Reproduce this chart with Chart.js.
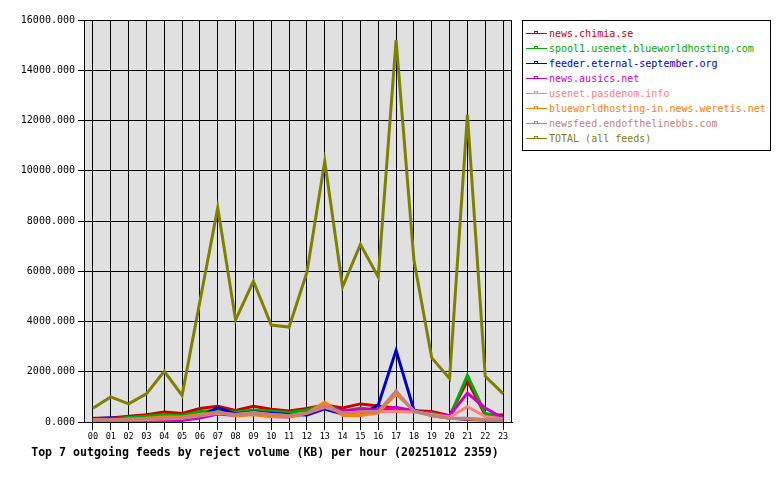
<!DOCTYPE html>
<html>
<head>
<meta charset="utf-8">
<script src="https://cdn.jsdelivr.net/npm/chart.js@4.4.1/dist/chart.umd.min.js"></script>
<style>
  body { margin: 0; background: #fff; width: 780px; height: 480px; overflow: hidden; position: relative; font-family: "DejaVu Sans Mono", monospace; }
  #wrap { position: absolute; left: 0; top: 0; width: 530px; height: 480px; }
  #title { position: absolute; left: 0; top: 444px; width: 530px; text-align: center; font-size: 11.6px; font-weight: bold; line-height: 16px; color: #000; white-space: nowrap; }
  #legend { position: absolute; left: 522px; top: 20px; width: 247px; height: 129px; border: 1px solid #000; background: #fff; }
  .item { position: absolute; left: 3px; height: 15px; font-size: 10px; line-height: 15px; white-space: nowrap; }
  .mk { position: absolute; left: 0; top: 7px; width: 21px; height: 1px; }
  .mk i { position: absolute; left: 8px; top: -2px; width: 2px; height: 1px; border: 1px solid; border-bottom: none; background: #fff; }
  .lbl { position: absolute; left: 23px; top: 0; }
</style>
</head>
<body>
<div id="wrap"><canvas id="chart" width="530" height="480"></canvas></div>
<div id="title"></div>
<div id="legend"></div>
<script>
// ———————————————— Data ————————————————
const hours = ['00','01','02','03','04','05','06','07','08','09','10','11',
               '12','13','14','15','16','17','18','19','20','21','22','23'];

const feedNames = [
  'news.chimia.se',
  'spool1.usenet.blueworldhosting.com',
  'feeder.eternal-september.org',
  'news.ausics.net',
  'usenet.pasdenom.info',
  'blueworldhosting-in.news.weretis.net',
  'newsfeed.endofthelinebbs.com',
  'TOTAL (all feeds)'
];
const feedColors = ['#cc0000', '#00aa00', '#0000cc', '#cc00cc', '#ff8080', '#ff8000', '#c08080', '#808000'];

const chimia    = [150, 160, 230, 290, 400, 340, 540, 630, 460, 630, 510, 440, 540, 680, 560, 720, 640, 550, 450, 420, 250, 1650, 280, 280];
const spool1    = [100, 120, 180, 230, 300, 260, 420, 470, 400, 480, 430, 380, 480, 690, 420, 560, 480, 480, 420, 360, 200, 1850, 340, 180];
const feeder    = [130, 170, 100, 100,  80,  80, 220, 570, 320, 400, 350, 300, 280, 520, 320, 260, 680, 2850, 480, 260, 160, 100, 80, 80];
const ausics    = [ 70,  70,  70,  70,  70,  70, 160, 320, 260, 320, 220, 200, 360, 560, 460, 500, 480, 590, 440, 320, 250, 1150, 560, 150];
const pasdenom  = [ 80,  80,  90, 100, 120, 150, 250, 350, 300, 380, 300, 250, 350, 600, 350, 400, 420, 420, 400, 300, 200, 610, 220, 120];
const weretis   = [100, 100, 120, 150, 200, 200, 300, 400, 250, 290, 220, 210, 350, 790, 260, 260, 360, 1120, 450, 250, 150, 120, 80, 80];
const endofline = [110, 110, 110, 130, 150, 160, 260, 380, 300, 350, 300, 260, 360, 660, 360, 400, 410, 1240, 420, 260, 160, 150, 100, 100];
const total     = [550, 1000, 720, 1120, 2020, 1060, 4800, 8530, 4060, 5600, 3860, 3780, 5950, 10380, 5380, 7070, 5770, 15200, 6450, 2550, 1730, 12230, 1820, 1130];

const series = [chimia, spool1, feeder, ausics, pasdenom, weretis, endofline, total];
const titleText = 'Top 7 outgoing feeds by reject volume (KB) per hour (20251012 2359)';
const FONT = '"DejaVu Sans Mono", monospace';

// ———————————————— Title + Legend (HTML) ————————————————
document.getElementById('title').textContent = titleText;

const legendEl = document.getElementById('legend');
feedNames.forEach((name, i) => {
  const div = document.createElement('div');
  div.className = 'item';
  div.style.top = (5 + 15 * i) + 'px';
  div.style.color = feedColors[i];
  div.innerHTML = `<span class="mk" style="background:${feedColors[i]}"><i style="border-color:${feedColors[i]}"></i></span><span class="lbl">${name}</span>`;
  legendEl.appendChild(div);
});

// Grey plot background + frame
const plotFrame = {
  id: 'plotFrame',
  beforeDraw(chart) {
    const { ctx, chartArea: a } = chart;
    ctx.save();
    ctx.fillStyle = '#e0e0e0';
    ctx.fillRect(a.left, a.top, a.right - a.left, a.bottom - a.top);
    ctx.restore();
  },
  beforeDatasetsDraw(chart) {
    const { ctx, chartArea: a } = chart;
    ctx.save();
    ctx.strokeStyle = '#000';
    ctx.lineWidth = 1;
    ctx.strokeRect(Math.round(a.left) + 0.5, Math.round(a.top) + 0.5,
                   Math.round(a.right - a.left) - 1, Math.round(a.bottom - a.top));
    ctx.restore();
  }
};

// later feeds drawn on top, TOTAL last
const datasets = series.map((data, i) => ({
  label: feedNames[i],
  data: data,
  borderColor: feedColors[i],
  backgroundColor: feedColors[i],
  borderWidth: 3,
  pointRadius: 0,
  tension: 0,
  fill: false,
  order: series.length - i
}));

new Chart(document.getElementById('chart').getContext('2d'), {
  type: 'line',
  data: { labels: hours, datasets: datasets },
  plugins: [plotFrame],
  options: {
    responsive: false,
    animation: false,
    layout: { padding: { left: 0, top: 20, right: 18, bottom: 36 } },
    plugins: {
      legend: { display: false },
      tooltip: { enabled: false },
      title: { display: false }
    },
    scales: {
      x: {
        offset: true,
        grid: { color: '#000', lineWidth: 1, tickLength: 8, offset: false },
        border: { color: '#000' },
        ticks: { color: '#000', font: { family: FONT, size: 8.5 }, padding: 2, maxRotation: 0, autoSkip: false },
        afterFit(s) { s.height = 22; }
      },
      y: {
        min: 0,
        max: 16000,
        grid: { color: '#000', lineWidth: 1, tickLength: 6 },
        border: { color: '#000' },
        ticks: { stepSize: 2000, color: '#000', font: { family: FONT, size: 10 }, padding: 3,
                 callback: v => v.toFixed(3) },
        afterFit(s) { s.width = 84; }
      }
    }
  }
});
</script>
</body>
</html>
